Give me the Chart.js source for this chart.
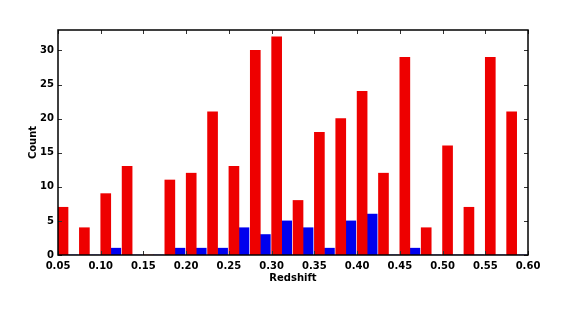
<!DOCTYPE html>
<html>
<head>
<meta charset="utf-8">
<script src="https://cdn.jsdelivr.net/npm/chart.js@4"></script>
<style>
  html, body { margin: 0; padding: 0; background: #fff; }
</style>
</head>
<body>
<canvas id="hist" width="562" height="313"></canvas>
<script>
// Histogram bins (left edges, width 0.025)
const binWidth = 0.025;
const binEdges = [0.05, 0.075, 0.10, 0.125, 0.15, 0.175, 0.20, 0.225, 0.25, 0.275, 0.30,
                  0.325, 0.35, 0.375, 0.40, 0.425, 0.45, 0.475, 0.50, 0.525, 0.55, 0.575];

// Counts per bin
const redCounts  = [7, 4, 9, 13, 0, 11, 12, 21, 13, 30, 32, 8, 18, 20, 24, 12, 29, 4, 16, 7, 29, 21];
const blueCounts = [0, 0, 1, 0, 0, 1, 1, 1, 4, 3, 5, 4, 1, 5, 6, 0, 1, 0, 0, 0, 0, 0];

// Tick labels
const xTicks = [0.05, 0.10, 0.15, 0.20, 0.25, 0.30, 0.35, 0.40, 0.45, 0.50, 0.55, 0.60];
const yTicks = [0, 5, 10, 15, 20, 25, 30];

const tickFont = { family: 'DejaVu Sans', size: 10, weight: 'bold' };

// Frame round the plot and inward-pointing tick marks on all four sides
const frameTicks = {
  id: 'frameTicks',
  afterDatasetsDraw(chart) {
    const { ctx, chartArea: a, scales: { x, y } } = chart;
    ctx.save();
    ctx.strokeStyle = '#333';
    ctx.lineWidth = 1;
    ctx.beginPath();
    x.ticks.forEach(t => {
      const px = Math.round(x.getPixelForValue(t.value)) + 0.5;
      ctx.moveTo(px, a.bottom); ctx.lineTo(px, a.bottom - 4);
      ctx.moveTo(px, a.top); ctx.lineTo(px, a.top + 4);
    });
    y.ticks.forEach(t => {
      const py = Math.round(y.getPixelForValue(t.value)) + 0.5;
      ctx.moveTo(a.left, py); ctx.lineTo(a.left + 4, py);
      ctx.moveTo(a.right, py); ctx.lineTo(a.right - 4, py);
    });
    ctx.stroke();
    ctx.strokeStyle = '#000';
    ctx.lineWidth = 1.5;
    ctx.strokeRect(a.left, a.top, a.width, a.height);
    ctx.restore();
  }
};

const redData = binEdges.map((e, i) => ({ x: e + binWidth * 0.235, y: redCounts[i] }));
const blueData = binEdges.map((e, i) => ({ x: e + binWidth * 0.705, y: blueCounts[i] }));

new Chart(document.getElementById('hist'), {
  type: 'bar',
  data: {
    datasets: [
      { data: redData, backgroundColor: 'rgb(238, 0, 0)', borderWidth: 0 },
      { data: blueData, backgroundColor: 'rgb(0, 0, 238)', borderWidth: 0 },
    ],
  },
  options: {
    responsive: false,
    animation: false,
    events: [],
    layout: { padding: { top: 30, right: 34, left: 0, bottom: 0 } },
    datasets: { bar: { grouped: false, barThickness: 10 } },
    plugins: { legend: { display: false }, tooltip: { enabled: false } },
    scales: {
      x: {
        type: 'linear',
        min: 0.05,
        max: 0.60,
        offset: false,
        grid: { display: false, drawTicks: false },
        border: { display: false },
        afterBuildTicks: s => { s.ticks = xTicks.map(v => ({ value: v })); },
        afterFit: s => { s.height = 58; },
        ticks: {
          font: tickFont,
          color: '#000',
          padding: 5,
          autoSkip: false,
          maxRotation: 0,
          callback: v => Number(v).toFixed(2),
        },
        title: {
          display: true,
          text: 'Redshift',
          color: '#000',
          font: { family: 'DejaVu Sans', size: 10, weight: 'bold' },
          padding: { top: 0, bottom: 29 },
        },
      },
      y: {
        min: 0,
        max: 33,
        grid: { display: false, drawTicks: false },
        border: { display: false },
        afterBuildTicks: s => { s.ticks = yTicks.map(v => ({ value: v })); },
        afterFit: s => { s.width = 58; },
        ticks: {
          font: tickFont,
          color: '#000',
          padding: 4,
          callback: v => String(v),
        },
        title: {
          display: true,
          text: 'Count',
          color: '#000',
          font: { family: 'DejaVu Sans', size: 10, weight: 'bold' },
          padding: { top: 27, bottom: 0 },
        },
      },
    },
  },
  plugins: [frameTicks],
});
</script>
</body>
</html>
